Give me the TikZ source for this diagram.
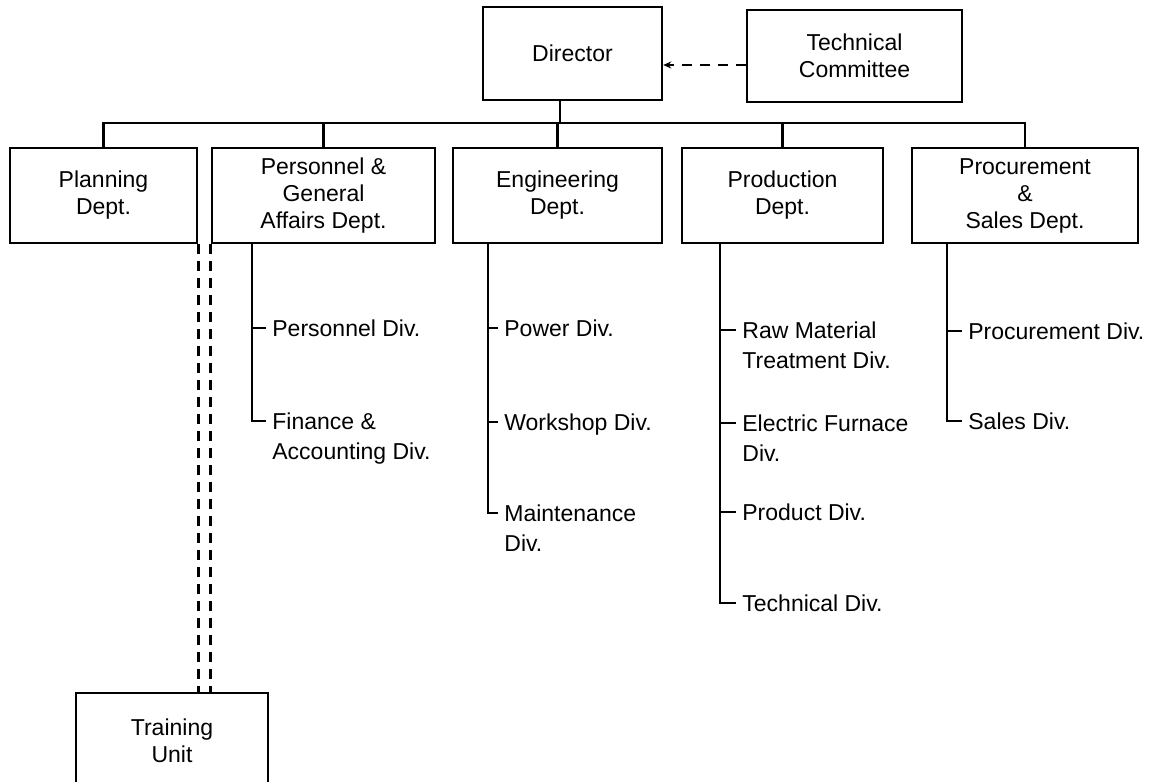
\documentclass[tikz,border=0pt]{standalone}
\usepackage{fontspec}
\setmainfont{Liberation Sans}
\usetikzlibrary{arrows.meta}

\begin{document}
\begin{tikzpicture}[
    x=0.5pt, y=-0.5pt,
    every node/.style={font=\fontsize{11.5}{13.5}\selectfont},
    dept/.style={rectangle, draw, line width=1.2pt, align=center, minimum height=47.5pt},
    div/.style={anchor=north west, align=left, inner sep=0pt, xshift=3pt, yshift=4.2pt,
                font=\fontsize{11.5}{15}\selectfont},
    link/.style={line width=1.1pt},
    dline/.style={line width=1.6pt, dash pattern=on 5pt off 3.5pt},
    >={Stealth[length=4pt, width=3.5pt]},
]
\clip (0,0) rectangle (1158,782);

% top level
\node[dept, minimum width=89.5pt, minimum height=46.5pt] (director) at (572.5,53.5) {Director};
\node[dept, minimum width=107.5pt, minimum height=46pt] (tc) at (854.5,56) {Technical\\Committee};

% departments
\node[dept, minimum width=93.5pt]  (plan) at (103.5,195.5) {Planning\\Dept.};
\node[dept, minimum width=111.5pt] (pers) at (323.5,195.5) {Personnel \&\\General\\Affairs Dept.};
\node[dept, minimum width=104.5pt] (eng)  at (557.5,195.5) {Engineering\\Dept.};
\node[dept, minimum width=100.5pt] (prod) at (782.5,195.5) {Production\\Dept.};
\node[dept, minimum width=113pt]   (proc) at (1025,195.5) {Procurement\\\&\\Sales Dept.};

\node[dept, minimum width=96pt, minimum height=48pt] (train) at (172,741) {Training\\Unit};

\draw[dashed, dash pattern=on 5pt off 4pt, link, ->] ([yshift=-4.5pt]tc.west) -- ([yshift=-4.5pt]tc.west -| director.east);

\coordinate (bus) at (560,123);
\draw[link] (director.south -| bus) -- (bus);
\draw[link] (plan.north) |- (bus) -| (proc.north);
\draw[link] (pers.north) -- (pers.north |- bus);
\draw[link] (eng.north) -- (eng.north |- bus);
\draw[link] (prod.north) -- (prod.north |- bus);

\draw[dline] (plan.south east) -- (plan.south east |- train.north);
\draw[dline] (pers.south west) -- (pers.south west |- train.north);

% divisions
\coordinate (perssp) at (252,243);
\coordinate (pd1) at (266,328);
\coordinate (pd2) at (266,421);
\node[div] (persdiv) at (pd1) {Personnel Div.};
\node[div] (findiv) at (pd2) {Finance \&\\Accounting Div.};
\draw[link] (perssp) |- (pd2) (pd1 -| perssp) -- (pd1);

\coordinate (engsp) at (488,243);
\coordinate (ed1) at (498,328);
\coordinate (ed2) at (498,422);
\coordinate (ed3) at (498,513);
\node[div] (powdiv) at (ed1) {Power Div.};
\node[div] (wsdiv) at (ed2) {Workshop Div.};
\node[div] (maindiv) at (ed3) {Maintenance\\Div.};
\draw[link] (engsp) |- (ed3) (ed1 -| engsp) -- (ed1) (ed2 -| engsp) -- (ed2);

\coordinate (prodsp) at (720,243);
\coordinate (rd1) at (736,330);
\coordinate (rd2) at (736,423);
\coordinate (rd3) at (736,512);
\coordinate (rd4) at (736,603);
\node[div] (rawdiv) at (rd1) {Raw Material\\Treatment Div.};
\node[div] (efdiv) at (rd2) {Electric Furnace\\Div.};
\node[div] (pdtdiv) at (rd3) {Product Div.};
\node[div] (techdiv) at (rd4) {Technical Div.};
\draw[link] (prodsp) |- (rd4) (rd1 -| prodsp) -- (rd1) (rd2 -| prodsp) -- (rd2)
    (rd3 -| prodsp) -- (rd3);

\coordinate (procsp) at (947,243);
\coordinate (sd1) at (962,331);
\coordinate (sd2) at (962,421);
\node[div] (prcdiv) at (sd1) {Procurement Div.};
\node[div] (salesdiv) at (sd2) {Sales Div.};
\draw[link] (procsp) |- (sd2) (sd1 -| procsp) -- (sd1);
\end{tikzpicture}
\end{document}
